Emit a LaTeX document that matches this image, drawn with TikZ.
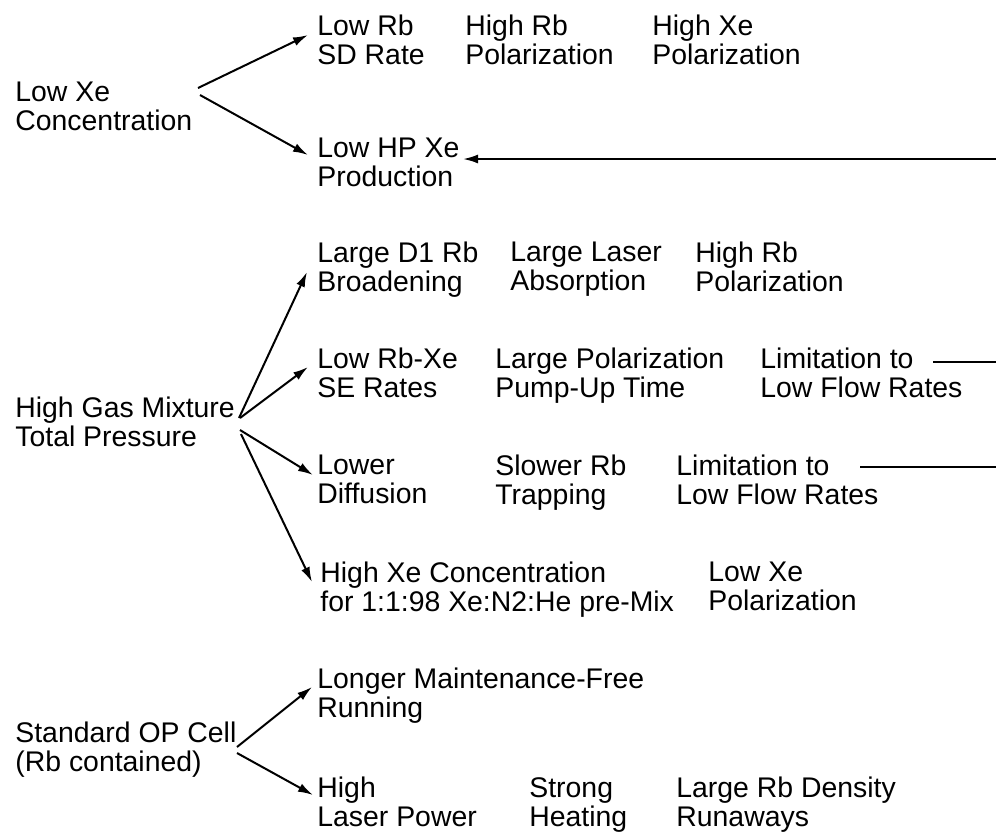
\documentclass[tikz,border=0pt]{standalone}
\usepackage{fontspec}
\setmainfont{Liberation Sans}
\usetikzlibrary{arrows.meta}
\begin{document}
\begin{tikzpicture}[x=0.5pt,y=-0.5pt,
    txt/.style={anchor=north west, inner sep=0pt, align=left,
      font=\fontsize{14.2pt}{14.4pt}\selectfont},
    arr/.style={-{Latex[length=7.5pt,width=4.5pt]}, line width=1pt},
    ln/.style={line width=1pt}]
  \useasboundingbox (0,0) rectangle (996,832);
  % Nodes
  \node[txt] (lowxe) at (15,82) {Low Xe\\Concentration};
  \node[txt] (lowrb) at (317,15) {Low Rb\\SD Rate};
  \node[txt] (highrba) at (465,15) {High Rb\\Polarization};
  \node[txt] (highxea) at (652,15) {High Xe\\Polarization};
  \node[txt] (lowhp) at (317,138) {Low HP Xe\\Production};
  \node[txt] (highgas) at (15,397) {High Gas Mixture\\Total Pressure};
  \node[txt] (broad) at (317,242) {Large D1 Rb\\Broadening};
  \node[txt] (absorb) at (510,242) {Large Laser\\Absorption};
  \node[txt] (highrbb) at (695,242) {High Rb\\Polarization};
  \node[txt] (serate) at (317,348) {Low Rb-Xe\\SE Rates};
  \node[txt] (pumpup) at (495,348) {Large Polarization\\Pump-Up Time};
  \node[txt] (limita) at (760,348) {Limitation to\\Low Flow Rates};
  \node[txt] (diffus) at (317,455) {Lower\\Diffusion};
  \node[txt] (trap) at (495,455) {Slower Rb\\Trapping};
  \node[txt] (limitb) at (676,455) {Limitation to\\Low Flow Rates};
  \node[txt] (highxec) at (320,562) {High Xe Concentration\\for 1:1:98 Xe:N2:He pre-Mix};
  \node[txt] (lowxepol) at (708,562) {Low Xe\\Polarization};
  \node[txt] (stdop) at (15,722) {Standard OP Cell\\(Rb contained)};
  \node[txt] (maint) at (317,668) {Longer Maintenance-Free\\Running};
  \node[txt] (power) at (317,777) {High\\Laser Power};
  \node[txt] (heat) at (529,777) {Strong\\Heating};
  \node[txt] (runaway) at (676,777) {Large Rb Density\\Runaways};
  \coordinate (edgea) at (996,159);
  \coordinate (edgeb) at (996,362);
  \coordinate (edgec) at (996,467);
  % Edges
  \draw[arr] ([shift={(183,6)}]lowxe.north west) -- ([shift={(-9,20)}]lowrb.north west);
  \draw[arr] ([shift={(185,13)}]lowxe.north west) -- ([shift={(-9,17)}]lowhp.north west);
  \draw[arr] (edgea) -- ([shift={(146,21)}]lowhp.north west);
  \draw[arr] ([shift={(224,21)}]highgas.north west) -- ([shift={(-10,30)}]broad.north west);
  \draw[arr] ([shift={(225,21)}]highgas.north west) -- ([shift={(-9,19)}]serate.north west);
  \draw[arr] ([shift={(225,33)}]highgas.north west) -- ([shift={(-4,20)}]diffus.north west);
  \draw[arr] ([shift={(226,37)}]highgas.north west) -- ([shift={(-8,20)}]highxec.north west);
  \draw[arr] ([shift={(222,25)}]stdop.north west) -- ([shift={(-5,19)}]maint.north west);
  \draw[arr] ([shift={(222,31)}]stdop.north west) -- ([shift={(-4,18)}]power.north west);
  \draw[ln] ([shift={(173,14)}]limita.north west) -- (edgeb);
  \draw[ln] ([shift={(184,12)}]limitb.north west) -- (edgec);
\end{tikzpicture}
\end{document}
